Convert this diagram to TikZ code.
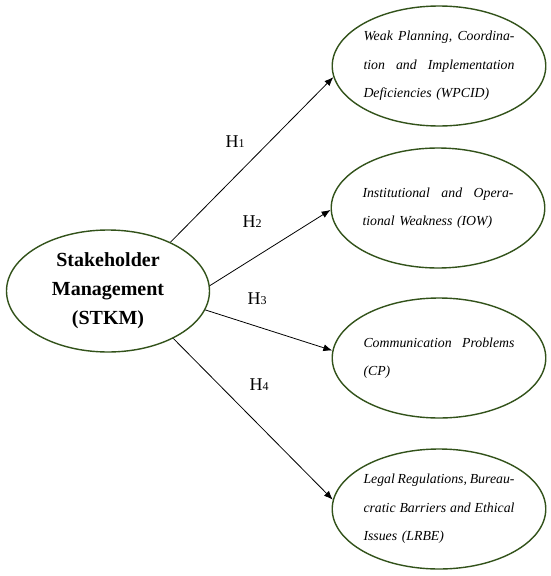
\documentclass[tikz,border=0pt]{standalone}
\usepackage{fontspec}
\setmainfont{Liberation Serif}
\usetikzlibrary{shapes.geometric,arrows.meta}
\definecolor{egreen}{RGB}{50,82,26}
\newcommand{\jline}[1]{\leavevmode\hbox to 151pt{#1}}
\newcommand{\gap}{\hfill}
\begin{document}
\begin{tikzpicture}[x=1pt,y=-1pt,
  oval/.style={ellipse,draw=egreen,line width=1.4pt,inner sep=0pt,
    minimum width=213pt,minimum height=120pt},
  outtext/.style={oval,text width=151pt,align=left,
    font=\fontsize{13.8}{28.5}\selectfont\itshape},
  arr/.style={-{Latex[length=9pt,width=7pt]},line width=0.8pt},
  hlab/.style={font=\fontsize{18}{20}\selectfont}]
\useasboundingbox (0,0) rectangle (550,576);
\fill[white] (0,0) rectangle (550,576);
\node[oval,minimum width=203pt,minimum height=122pt,align=center,
  font=\fontsize{20}{29}\selectfont\bfseries] (stkm) at (108,291)
  {Stakeholder\\Management\\(STKM)};
\node[outtext] (wpcid) at (439,66)
  {\jline{Weak\gap Planning,\gap Coordina-}\\\jline{tion\gap and\gap Implementation}\\Deficiencies (WPCID)};
\node[outtext] (iow) at (438,208)
  {\jline{Institutional\gap and\gap Opera-}\\tional Weakness (IOW)};
\node[outtext] (cp) at (439,358)
  {\jline{Communication\gap Problems}\\(CP)};
\node[outtext] (lrbe) at (439,509)
  {\jline{Legal\gap Regulations,\gap Bureau-}\\\jline{cratic\gap Barriers\gap and\gap Ethical}\\Issues (LRBE)};
\draw[arr] (stkm.38) -- (wpcid.186);
\draw[arr] (stkm.3) -- (iow.181);
\draw[arr] (stkm.349) -- (cp.176);
\draw[arr] (stkm.324) -- (lrbe.175);
\node[hlab] (h1) at (235,142) {H{\fontsize{12}{12}\selectfont 1}};
\node[hlab] (h2) at (252,222) {H{\fontsize{12}{12}\selectfont 2}};
\node[hlab] (h3) at (257,299) {H{\fontsize{12}{12}\selectfont 3}};
\node[hlab] (h4) at (259,385) {H{\fontsize{12}{12}\selectfont 4}};
\end{tikzpicture}
\end{document}
